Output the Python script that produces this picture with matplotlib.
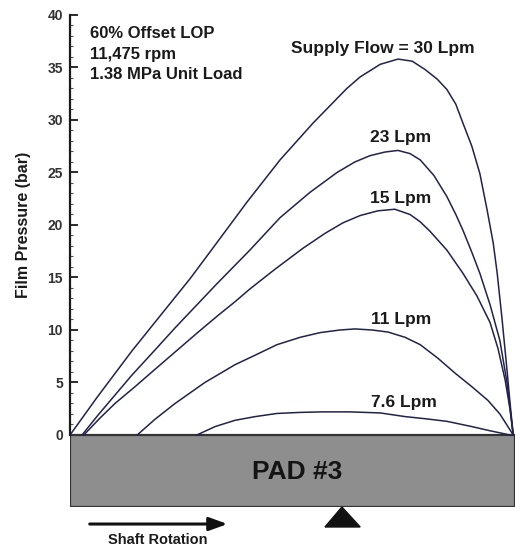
import matplotlib.pyplot as plt
from matplotlib.patches import Rectangle, Polygon
from matplotlib.ticker import MultipleLocator

plt.rcParams['font.family'] = ['Liberation Sans', 'DejaVu Sans']

# position along the pad (0 = leading edge, 1 = trailing edge), pressure in bar
pos_30 = [0.000, 0.061, 0.139, 0.213, 0.270, 0.321, 0.398, 0.472, 0.546, 0.622,
          0.652, 0.697, 0.737, 0.769, 0.798, 0.825, 0.847, 0.867, 0.883, 0.903,
          0.921, 0.937, 0.951, 0.960, 0.971, 0.982, 0.989, 0.996]
p_30 = [0, 3.6, 8.0, 11.9, 14.9, 17.8, 22.2, 26.2, 29.7, 33.0,
        34.1, 35.3, 35.8, 35.6, 34.8, 33.9, 32.9, 31.5, 29.7, 27.5,
        24.9, 21.5, 18.3, 15.4, 11.0, 6.2, 3.0, 0]

pos_23 = [0.027, 0.063, 0.101, 0.139, 0.191, 0.236, 0.283, 0.330, 0.404, 0.472,
          0.539, 0.600, 0.640, 0.674, 0.708, 0.737, 0.764, 0.787, 0.818, 0.847,
          0.867, 0.883, 0.903, 0.921, 0.944, 0.966, 0.982, 0.996]
p_23 = [0, 1.9, 3.8, 5.7, 8.1, 10.2, 12.3, 14.4, 17.6, 20.7,
        23.1, 25.0, 26.0, 26.6, 26.95, 27.1, 26.8, 26.2, 24.7, 22.7,
        21.0, 19.5, 17.4, 15.4, 12.4, 9.0, 5.0, 0]

pos_15 = [0.031, 0.067, 0.101, 0.146, 0.184, 0.236, 0.288, 0.333, 0.371, 0.404,
          0.461, 0.524, 0.573, 0.613, 0.652, 0.692, 0.730, 0.764, 0.787, 0.809,
          0.847, 0.883, 0.915, 0.944, 0.962, 0.978, 0.989, 0.996]
p_15 = [0, 1.6, 3.0, 4.6, 6.0, 7.9, 9.8, 11.4, 12.7, 13.9,
        15.8, 17.8, 19.2, 20.2, 20.9, 21.35, 21.5, 21.0, 20.3, 19.4,
        17.6, 15.4, 13.2, 10.7, 8.2, 5.2, 2.4, 0]

pos_11 = [0.151, 0.191, 0.236, 0.303, 0.371, 0.416, 0.465, 0.517, 0.562, 0.607,
          0.640, 0.679, 0.715, 0.753, 0.787, 0.827, 0.865, 0.903, 0.939, 0.966, 0.996]
p_11 = [0, 1.5, 3.0, 5.0, 6.7, 7.6, 8.6, 9.3, 9.75, 10.0,
        10.1, 10.0, 9.8, 9.3, 8.6, 7.3, 5.9, 4.6, 3.3, 2.0, 0]

pos_76 = [0.285, 0.326, 0.371, 0.416, 0.465, 0.517, 0.566, 0.629, 0.697, 0.753,
          0.798, 0.847, 0.903, 0.944, 0.989]
p_76 = [0, 0.8, 1.4, 1.75, 2.05, 2.15, 2.2, 2.2, 2.1, 1.75,
        1.55, 1.3, 0.8, 0.4, 0]

flow_labels = ['Supply Flow = 30 Lpm', '23 Lpm', '15 Lpm', '11 Lpm', '7.6 Lpm']
info_lines = ['60% Offset LOP', '11,475 rpm', '1.38 MPa Unit Load']

fig = plt.figure(figsize=(5.15, 5.47), dpi=100)
ax = fig.add_axes([0.136, 0.0731, 0.864, 0.8995])
ax.set_xlim(0, 1)
ax.set_ylim(-6.86, 40)

line_col = '#22224c'
for xs, ys in [(pos_30, p_30), (pos_23, p_23), (pos_15, p_15), (pos_11, p_11), (pos_76, p_76)]:
    ax.plot(xs, ys, color=line_col, lw=1.1, zorder=3, solid_joinstyle='round')

# curve labels
label_pos = [(0.703, 36.4), (0.742, 27.9), (0.742, 22.1), (0.744, 10.6), (0.751, 2.67)]
for txt, (lx, ly) in zip(flow_labels, label_pos):
    ax.text(lx, ly, txt, ha='center', va='baseline', fontsize=12.5,
            fontweight='bold', color='#1a1a1a')

# operating conditions
for i, txt in enumerate(info_lines):
    ax.text(0.045, 37.8 - 1.95 * i, txt, ha='left', va='baseline', fontsize=12,
            fontweight='bold', color='#1a1a1a')

# pad
ax.add_patch(Rectangle((0, -6.86), 1.0, 6.86, facecolor='#8e8e8e',
                       edgecolor='#333333', lw=1.6, zorder=2))
ax.text(0.51, -3.5, 'PAD #3', ha='center', va='center', fontsize=19,
        fontweight='bold', color='#141414', zorder=4)

# pivot and rotation arrow
ax.add_patch(Polygon([(0.573, -8.76), (0.652, -8.76), (0.611, -6.86)], closed=True,
                     facecolor='#111111', edgecolor='#111111', clip_on=False))
ax.annotate('', xy=(0.360, -8.48), xytext=(0.038, -8.48), annotation_clip=False,
            arrowprops=dict(arrowstyle='-|>,head_length=1.1,head_width=0.4',
                            color='#111111', lw=2.2))
ax.text(0.197, -10.0, 'Shaft Rotation', ha='center', va='center', fontsize=10.5,
        fontweight='bold', color='#1a1a1a', clip_on=False)

# axes styling
for s in ['top', 'right', 'bottom']:
    ax.spines[s].set_visible(False)
ax.spines['left'].set_bounds(0, 40)
ax.spines['left'].set_linewidth(1.6)
ax.spines['left'].set_color('#1a1a1a')
ax.set_xticks([])
ax.set_yticks(range(0, 41, 5))
ax.yaxis.set_minor_locator(MultipleLocator(1))
ax.tick_params(axis='y', which='major', direction='in', length=6, width=1.3,
               labelsize=10, pad=5, colors='#1a1a1a', labelcolor='#333333')
ax.tick_params(axis='y', which='minor', direction='in', length=2.5, width=0.8,
               colors='#555555')
for lbl in ax.get_yticklabels():
    lbl.set_fontweight('bold')

ax.set_ylabel('Film Pressure (bar)', fontsize=11.5, fontweight='bold', color='#1a1a1a')
ax.yaxis.set_label_coords(-0.088, 0.573)

fig.savefig('out.png', dpi=100)
